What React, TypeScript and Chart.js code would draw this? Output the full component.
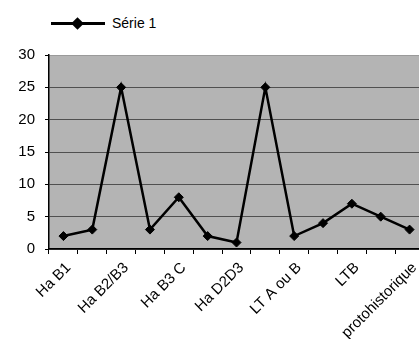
import React, { useEffect, useRef } from "react";
import { Chart, registerables } from "chart.js";

Chart.register(...registerables);

const categories = [
  "Ha B1", "", "Ha B2/B3", "", "Ha B3 C", "", "Ha D2D3", "",
  "LT A ou B", "", "LTB", "", "protohistorique",
];
const serie1 = [2, 3, 25, 3, 8, 2, 1, 25, 2, 4, 7, 5, 3];
const seriesName = "Série 1";
const yMin = 0;
const yMax = 30;
const yStep = 5;

const FONT = "'Liberation Sans', Arial, sans-serif";

const bgPlugin = {
  id: "plotBg",
  beforeDraw(chart: any) {
    const { ctx, chartArea } = chart;
    ctx.save();
    ctx.fillStyle = "#b4b4b4";
    ctx.fillRect(chartArea.left, chartArea.top, chartArea.right - chartArea.left, chartArea.bottom - chartArea.top);
    ctx.restore();
  },
};

export default function App() {
  const ref = useRef<HTMLCanvasElement>(null);
  useEffect(() => {
    if (!ref.current) return;
    const chart = new Chart(ref.current, {
      type: "line",
      data: {
        labels: categories,
        datasets: [
          {
            label: seriesName,
            data: serie1,
            borderColor: "#000",
            backgroundColor: "#000",
            borderWidth: 2.5,
            pointStyle: "rectRot",
            pointRadius: 4.5,
            pointBorderWidth: 1,
            pointBackgroundColor: "#000",
            pointBorderColor: "#000",
            tension: 0,
          },
        ],
      },
      options: {
        responsive: false,
        animation: false,
        layout: { padding: { top: 55, right: 6, left: 0, bottom: 0 } },
        plugins: { legend: { display: false }, tooltip: { enabled: false } },
        scales: {
          x: {
            type: "category",
            offset: true,
            grid: {
              offset: true,
              drawOnChartArea: false,
              drawTicks: true,
              tickLength: 5,
              color: "#000",
              lineWidth: 1,
            },
            border: { color: "#000", width: 1.5 },
            ticks: {
              autoSkip: false,
              maxRotation: 45,
              minRotation: 45,
              labelOffset: 5,
              color: "#000",
              padding: 5,
              font: { family: FONT, size: 15 },
            },
            afterFit(scale: any) {
              scale.height = 90;
            },
          },
          y: {
            min: yMin,
            max: yMax,
            ticks: {
              stepSize: yStep,
              color: "#000",
              padding: 10,
              font: { family: FONT, size: 15 },
            },
            grid: {
              tickLength: 4,
              lineWidth: 1,
              color: (c: any) => {
                const v = c.tick ? c.tick.value : 0;
                if (v === yMax) return "#9a9a9a";
                return "#505050";
              },
              tickColor: "#000",
            },
            border: { color: "#000", width: 1.5 },
            afterFit(scale: any) {
              scale.width = 49;
            },
          },
        },
      },
      plugins: [bgPlugin],
    });
    return () => chart.destroy();
  }, []);

  return (
    <div
      style={{
        position: "absolute",
        left: 0,
        top: 0,
        width: 419,
        height: 339,
        overflow: "hidden",
        background: "#fff",
      }}
    >
      <div
        style={{
          position: "absolute",
          left: 51,
          top: 14,
          display: "flex",
          alignItems: "center",
          fontFamily: FONT,
          fontSize: 14,
          color: "#000",
          height: 18,
        }}
      >
        <div style={{ position: "relative", width: 54, height: 18 }}>
          <div
            style={{
              position: "absolute",
              left: 0,
              top: 8,
              width: 54,
              height: 2.5,
              background: "#000",
            }}
          />
          <div
            style={{
              position: "absolute",
              left: 22,
              top: 4.5,
              width: 9,
              height: 9,
              background: "#000",
              transform: "rotate(45deg)",
            }}
          />
        </div>
        <span style={{ marginLeft: 7 }}>{seriesName}</span>
      </div>
      <canvas ref={ref} width={430} height={339} style={{ position: "absolute", left: 0, top: 0 }} />
    </div>
  );
}
